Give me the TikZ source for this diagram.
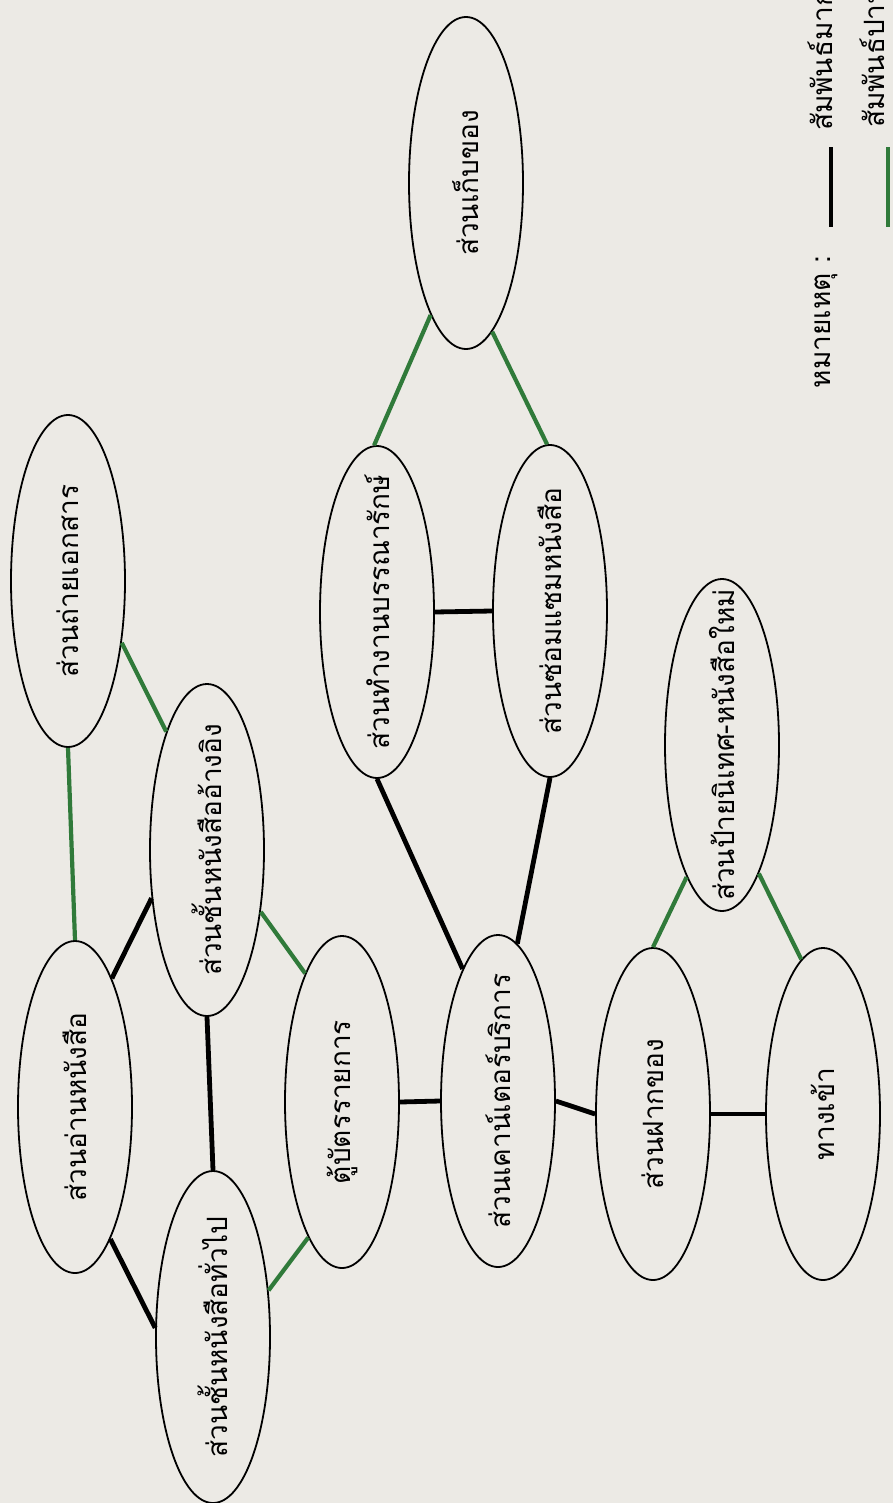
\documentclass[tikz,border=0pt]{standalone}
\usepackage{fontspec}
\usepackage{graphicx}
\usetikzlibrary{shapes.geometric}
\newfontfamily\thaifont[Script=Thai]{Loma}
\definecolor{paper}{RGB}{236,234,229}
\definecolor{midgreen}{RGB}{48,122,58}
% text turned a quarter to the left, zero length so the ellipse keeps its size
\newcommand{\vtext}[2][c]{\rotatebox{90}{\makebox[0pt][#1]{#2}}}

\begin{document}
\begin{tikzpicture}[x=0.5pt,y=-0.5pt,
  room/.style={draw,ellipse,minimum width=57pt,minimum height=166pt,inner sep=0pt,line width=0.9pt,font=\thaifont\fontsize{14}{16}\selectfont},
  legtext/.style={inner sep=0pt,font=\thaifont\fontsize{14}{16}\selectfont},
  strong/.style={line width=2.4pt,black},
  medium/.style={line width=2.1pt,midgreen}]
\fill[paper] (0,0) rectangle (893,1503);
\clip (0,0) rectangle (893,1503);

\node[room] (store) at (466,183) {\vtext{ส่วนเก็บของ}};
\node[room] (librarian) at (377,612) {\vtext{ส่วนทำงานบรรณารักษ์}};
\node[room] (repair) at (550,611) {\vtext{ส่วนซ่อมแซมหนังสือ}};
\node[room] (copy) at (68,581) {\vtext{ส่วนถ่ายเอกสาร}};
\node[room] (refshelf) at (207,850) {\vtext{ส่วนชั้นหนังสืออ้างอิง}};
\node[room] (reading) at (75,1107) {\vtext{ส่วนอ่านหนังสือ}};
\node[room] (genshelf) at (213,1337) {\vtext{ส่วนชั้นหนังสือทั่วไป}};
\node[room] (catalog) at (342,1102) {\vtext{ตู้บัตรรายการ}};
\node[room] (counter) at (498,1101) {\vtext{ส่วนเคาน์เตอร์บริการ}};
\node[room] (deposit) at (653,1114) {\vtext{ส่วนฝากของ}};
\node[room] (entrance) at (823,1114) {\vtext{ทางเข้า}};
\node[room] (board) at (722,745) {\vtext{ส่วนป้ายนิเทศ-หนังสือใหม่}};

% strong links
\draw[strong] (librarian.east) -- (repair.west);
\draw[strong] (librarian.south) -- (counter.105);
\draw[strong] (repair.south) -- (counter.83);
\draw[strong] (reading.74) -- (refshelf.221);
\draw[strong] (refshelf.south) -- (genshelf.north);
\draw[strong] (reading.285) -- (genshelf.171);
\draw[strong] (catalog.east) -- (counter.west);
\draw[strong] (counter.east) -- (deposit.west);
\draw[strong] (deposit.east) -- (entrance.west);

% medium links
\draw[medium] (store.255) -- (librarian.91);
\draw[medium] (store.280) -- (repair.91);
\draw[medium] (copy.south) -- (reading.north);
\draw[medium] (copy.311) -- (refshelf.109);
\draw[medium] (refshelf.311) -- (catalog.106);
\draw[medium] (catalog.256) -- (genshelf.40);
\draw[medium] (deposit.north) -- (board.255);
\draw[medium] (entrance.98) -- (board.286);

% key
\node[legtext] (note) at (826,322) {\vtext{หมายเหตุ :}};
\coordinate (muchbot) at (831,227);
\coordinate (muchtop) at (831,147);
\coordinate (fairbot) at (888,227);
\coordinate (fairtop) at (888,147);
\draw[strong] (muchbot) -- (muchtop);
\draw[medium] (fairbot) -- (fairtop);
\node[legtext] (much) at (820,131) {\vtext[l]{สัมพันธ์มาก}};
\node[legtext] (fair) at (872,128) {\vtext[l]{สัมพันธ์ปานกลาง}};
\end{tikzpicture}
\end{document}
